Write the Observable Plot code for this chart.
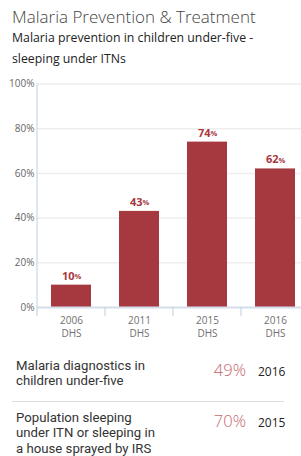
<!DOCTYPE html>
<html><head><meta charset="utf-8">
<script src="https://cdn.jsdelivr.net/npm/d3@7"></script>
<script src="https://cdn.jsdelivr.net/npm/@observablehq/plot@0.6"></script>
<style>
html,body{margin:0;padding:0;background:#fff;overflow:hidden;width:301px;height:456px;font-family:"Open Sans",sans-serif;}
#title{position:absolute;left:12px;top:5px;font-size:17px;font-weight:300;color:#444;white-space:nowrap;}
#subtitle{position:absolute;left:12px;top:28px;font-size:12.3px;font-weight:500;color:#222;line-height:20.5px;width:280px;}
#chart{position:absolute;left:0;top:75px;}
.row{position:absolute;left:16px;width:270px;font-size:13.2px;color:#333;line-height:15.5px;}
.row .lbl{position:absolute;left:0;top:0;font-family:Roboto,sans-serif;}
.row .lbl div{height:15.5px;line-height:15.5px;}
.row .val{position:absolute;right:40px;font-size:16.5px;font-weight:300;color:#c4676d;}
.row .yr{position:absolute;left:242px;font-size:12px;color:#222;}
#sep{position:absolute;left:12px;width:272px;top:401px;height:1px;background:#ddd;}
</style></head>
<body>
<div id="title">Malaria Prevention &amp; Treatment</div>
<div id="subtitle">Malaria prevention in children under-five - sleeping under ITNs</div>
<div id="chart"></div>
<div id="sep"></div>
<div id="rows"></div>
<script>
const categories = ["2006\nDHS", "2011\nDHS", "2015\nDHS", "2016\nDHS"];
const values = [10, 43, 74, 62];
const yTicks = [0, 20, 40, 60, 80, 100];
const tableLabels = ["Malaria diagnostics in\nchildren under-five", "Population sleeping\nunder ITN or sleeping in\na house sprayed by IRS"];
const tableValues = ["49%", "70%"];
const tableYears = ["2016", "2015"];

const data = categories.map((c, i) => ({cat: c, value: values[i]}));
const barColor = "#a63840";

const plot = Plot.plot({
  width: 301,
  height: 270,
  marginTop: 8.5,
  marginBottom: 38,
  marginLeft: 37,
  marginRight: 0,
  style: {fontFamily: "'Open Sans', sans-serif", background: "transparent"},
  x: {domain: categories, range: [37, 309], paddingInner: 0.41, paddingOuter: 0.205},
  y: {domain: [0, 100]},
  marks: [
    Plot.gridY(yTicks, {stroke: "#eeeeee", strokeOpacity: 1, strokeWidth: 1.5}),
    Plot.axisY(yTicks, {tickSize: 0, tickPadding: 3, tickFormat: d => d + "%", fontSize: 10, fill: "#666", label: null}),
    Plot.barY(data, {x: "cat", y: "value", fill: barColor}),
    Plot.ruleY([0], {stroke: "#d5deeb", strokeWidth: 2}),
    Plot.axisX({tickSize: 0, tickPadding: 8, fontSize: 10, fill: "#707070", lineHeight: 1.25, label: null}),
    Plot.text(data, {x: "cat", y: "value", text: d => String(d.value), textAnchor: "end", dx: 3, dy: -9, fontSize: 11, fontWeight: "bold", fill: "#a8373f"}),
    Plot.text(data, {x: "cat", y: "value", text: d => "%", textAnchor: "start", dx: 3, dy: -8.5, fontSize: 7.5, fontWeight: "bold", fill: "#a8373f"})
  ]
});
document.getElementById("chart").appendChild(plot);

// axis lines and category separators derived from the scales
const xs = plot.scale("x"), ys = plot.scale("y");
const svg = d3.select(plot);
const y0 = ys.apply(0), yTop = ys.apply(100);
const x0 = xs.range[0];
const g = svg.append("g").attr("stroke", "#c9d6e8").attr("stroke-width", 1.2);
g.append("line").attr("x1", x0).attr("x2", x0).attr("y1", yTop).attr("y2", y0 + 9);
categories.forEach((c, i) => {
  const xe = xs.apply(c) - (xs.step - xs.bandwidth) / 2;
  if (i > 0) g.append("line").attr("x1", xe).attr("x2", xe).attr("y1", y0).attr("y2", y0 + 9);
});
const last = xs.apply(categories[categories.length-1]) + xs.bandwidth + (xs.step - xs.bandwidth)/2;
g.append("line").attr("x1", last).attr("x2", last).attr("y1", y0).attr("y2", y0 + 9);

// table rows
const rowTops = [357.5, 409.5];
const valTops = [362, 413];
const rows = document.getElementById("rows");
tableLabels.forEach((lbl, i) => {
  const r = document.createElement("div");
  r.className = "row";
  r.style.top = rowTops[i] + "px";
  const l = document.createElement("div"); l.className = "lbl";
  lbl.split("\n").forEach(t => { const d = document.createElement("div"); d.textContent = t; l.appendChild(d); });
  r.appendChild(l);
  const v = document.createElement("div"); v.className = "val"; v.textContent = tableValues[i];
  v.style.top = (valTops[i] - rowTops[i]) + "px";
  r.appendChild(v);
  const y = document.createElement("div"); y.className = "yr"; y.textContent = tableYears[i];
  y.style.top = (valTops[i] - rowTops[i] + 2) + "px";
  r.appendChild(y);
  rows.appendChild(r);
});
</script>
</body></html>
